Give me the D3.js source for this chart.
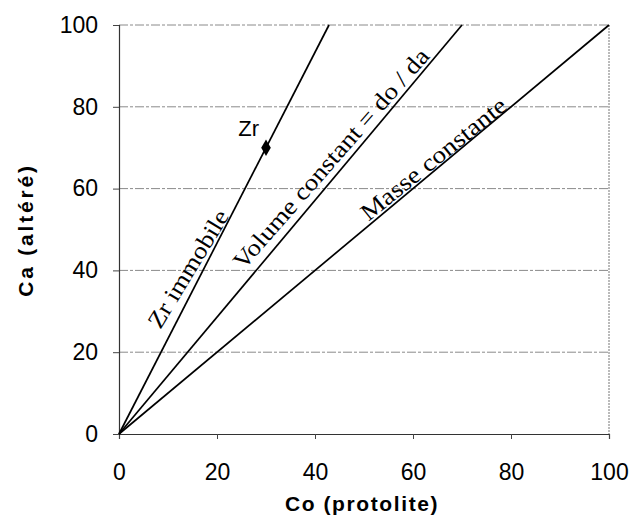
<!DOCTYPE html>
<html>
<head>
<meta charset="utf-8">
<script src="https://cdn.jsdelivr.net/npm/d3@7"></script>
<style>
  body { margin: 0; background: #fff; }
  svg { display: block; }
</style>
</head>
<body>
<div id="chart"></div>
<script>
// reference lines: Ca = slope * Co
var lineNames = ["Zr immobile", "Volume constant = do / da", "Masse constante"];
var lineSlopes = [70 / 30, 100 / 70, 1];

// Zr sample point
var pointName = ["Zr"];
var pointCo = [30];
var pointCa = [70];

var xTicks = [0, 20, 40, 60, 80, 100];
var yTicks = [0, 20, 40, 60, 80, 100];

var xTitle = "Co (protolite)";
var yTitle = "Ca (altéré)";

// label baselines, start and end in data units [Co, Ca]
var labelFrom = [[8.4, 25.4], [25.4, 39.9], [50.9, 51.9]];
var labelTo = [[22.6, 53.3], [63.6, 92.2], [79.5, 79.6]];

var margin = {top: 25, right: 20, bottom: 97, left: 119};
var width = 629 - margin.left - margin.right;
var height = 531 - margin.top - margin.bottom;

var svg = d3.select("#chart").append("svg")
    .attr("width", 629)
    .attr("height", 531);

var g = svg.append("g")
    .attr("transform", "translate(" + margin.left + "," + margin.top + ")");

var x = d3.scaleLinear().domain([0, 100]).range([0, width]);
var y = d3.scaleLinear().domain([0, 100]).range([height, 0]);

var sans = "Arial, 'Liberation Sans', sans-serif";

// grid lines
g.selectAll(".grid")
    .data(yTicks.filter(function(d){ return d > 0; }))
    .enter().append("line")
    .attr("class", "grid")
    .attr("x1", 0)
    .attr("x2", width)
    .attr("y1", function(d){ return y(d); })
    .attr("y2", function(d){ return y(d); })
    .attr("stroke", "#8a8a8a")
    .attr("stroke-width", 1)
    .attr("stroke-dasharray", "9,2,3,2");

// right border
g.append("line")
    .attr("x1", width).attr("x2", width)
    .attr("y1", 0).attr("y2", height)
    .attr("stroke", "#777")
    .attr("stroke-dasharray", "2,1");

// axes
var xAxis = g.append("g")
    .attr("transform", "translate(0," + height + ")")
    .call(d3.axisBottom(x).tickValues(xTicks).tickSize(5).tickPadding(25));
var yAxis = g.append("g")
    .call(d3.axisLeft(y).tickValues(yTicks).tickSize(6).tickPadding(15));

[xAxis, yAxis].forEach(function(a){
    a.select(".domain").attr("stroke", "#333").attr("stroke-width", 1.2);
    a.selectAll(".tick line").attr("stroke", "#444");
    a.selectAll(".tick text")
        .attr("fill", "#000")
        .style("font-family", sans)
        .style("font-size", "23px");
});

// axis titles
svg.append("text")
    .attr("x", margin.left + width / 2 - 2)
    .attr("y", 511)
    .attr("text-anchor", "middle")
    .style("font-family", sans)
    .style("font-weight", "bold")
    .style("font-size", "21px")
    .style("letter-spacing", "1.6px")
    .text(xTitle);

svg.append("text")
    .attr("transform", "translate(33,230) rotate(-90)")
    .attr("text-anchor", "middle")
    .style("font-family", sans)
    .style("font-weight", "bold")
    .style("font-size", "21px")
    .style("letter-spacing", "2.8px")
    .text(yTitle);

// the three lines, clipped to the plot
var lines = lineSlopes.map(function(s, i){
    var xEnd = Math.min(100, 100 / s);
    return {name: lineNames[i], slope: s, pts: [[0, 0], [xEnd, xEnd * s]]};
});

var line = d3.line()
    .x(function(d){ return x(d[0]); })
    .y(function(d){ return y(d[1]); });

g.selectAll(".ref-line")
    .data(lines)
    .enter().append("path")
    .attr("class", "ref-line")
    .attr("d", function(d){ return line(d.pts); })
    .attr("fill", "none")
    .attr("stroke", "#000")
    .attr("stroke-width", 1.7);

// rotated labels along each line
g.selectAll(".line-label")
    .data(lines)
    .enter().append("text")
    .attr("class", "line-label")
    .each(function(d, i){
        var x0 = x(labelFrom[i][0]), y0 = y(labelFrom[i][1]);
        var x1 = x(labelTo[i][0]), y1 = y(labelTo[i][1]);
        var ang = Math.atan2(y1 - y0, x1 - x0) * 180 / Math.PI;
        var len = Math.hypot(x1 - x0, y1 - y0);
        d3.select(this)
            .attr("transform", "translate(" + x0 + "," + y0 + ") rotate(" + ang + ")")
            .attr("textLength", len)
            .attr("lengthAdjust", "spacingAndGlyphs");
    })
    .style("font-family", "'Liberation Serif', 'Times New Roman', serif")
    .style("font-size", "24px")
    .text(function(d){ return d.name; });

// Zr point
g.selectAll(".pt")
    .data(pointCo)
    .enter().append("path")
    .attr("class", "pt")
    .attr("d", d3.symbol().type(d3.symbolDiamond).size(80))
    .attr("transform", function(d, i){
        return "translate(" + x(d) + "," + y(pointCa[i]) + ")";
    })
    .attr("fill", "#000");

g.selectAll(".pt-label")
    .data(pointCo)
    .enter().append("text")
    .attr("class", "pt-label")
    .attr("x", function(d){ return x(d) - 7; })
    .attr("y", function(d, i){ return y(pointCa[i]) - 12; })
    .attr("text-anchor", "end")
    .style("font-family", sans)
    .style("font-size", "22px")
    .text(function(d, i){ return pointName[i]; });
</script>
</body>
</html>
